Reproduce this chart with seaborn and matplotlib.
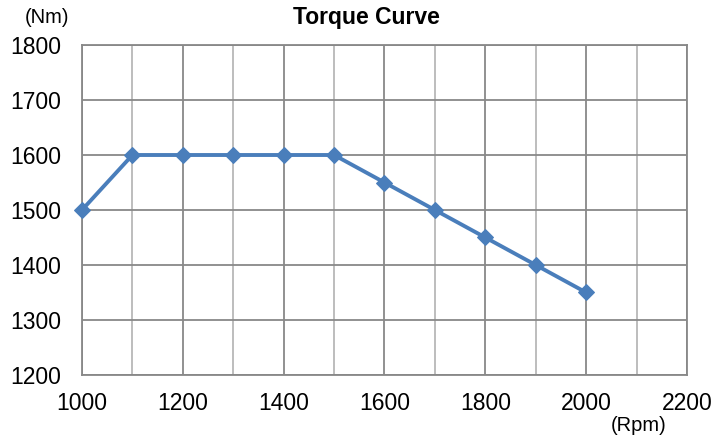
import numpy as np
import pandas as pd
import matplotlib
matplotlib.use("Agg")
import matplotlib.pyplot as plt
from matplotlib.ticker import MultipleLocator
import seaborn as sns

# Torque curve data
rpm = [1000, 1100, 1200, 1300, 1400, 1500, 1600, 1700, 1800, 1900, 2000]
torque = [1500, 1600, 1600, 1600, 1600, 1600, 1550, 1500, 1450, 1400, 1350]

df = pd.DataFrame({"rpm": rpm, "torque": torque})

sns.set_style("white")
plt.rcParams["font.family"] = ["Liberation Sans", "DejaVu Sans"]
plt.rcParams["text.color"] = "black"
plt.rcParams["xtick.labelcolor"] = "black"
plt.rcParams["ytick.labelcolor"] = "black"

fig = plt.figure(figsize=(7.18, 4.37), dpi=100)
ax = fig.add_axes([0.1142, 0.1419, 0.8426, 0.7551])

# grid: major lines darker, minor x lines lighter
ax.set_xlim(1000, 2200)
ax.set_ylim(1200, 1800)
ax.xaxis.set_major_locator(MultipleLocator(200))
ax.xaxis.set_minor_locator(MultipleLocator(100))
ax.yaxis.set_major_locator(MultipleLocator(100))
ax.grid(True, which="major", color="#888888", linewidth=1.3)
ax.grid(True, which="minor", axis="x", color="#b8b8b8", linewidth=1.3)
ax.set_axisbelow(True)

sns.lineplot(data=df, x="rpm", y="torque", ax=ax, color="#4a7ebb",
             linewidth=2.8, marker="D", markersize=8.5,
             markeredgecolor="#4a7ebb", zorder=3, clip_on=False)

for s in ax.spines.values():
    s.set_color("#888888")
    s.set_linewidth(1.3)

ax.tick_params(axis="both", which="major", length=4.3, width=1.3, color="#888888",
               labelsize=16.5)
ax.tick_params(axis="y", which="major", pad=10.5)
ax.tick_params(axis="x", which="major", pad=8)
ax.tick_params(axis="both", which="minor", length=0)
ax.set_xlabel("")
ax.set_ylabel("")

fig.text(0.511, 0.959, "Torque Curve", fontsize=16.5, fontweight="bold",
         ha="center", va="center")
fig.text(0.066, 0.961, "(Nm)", fontsize=14.5, ha="center", va="center")
fig.text(0.890, 0.027, "(Rpm)", fontsize=14.5, ha="center", va="center")

plt.savefig("out.png", dpi=100)
plt.close()
